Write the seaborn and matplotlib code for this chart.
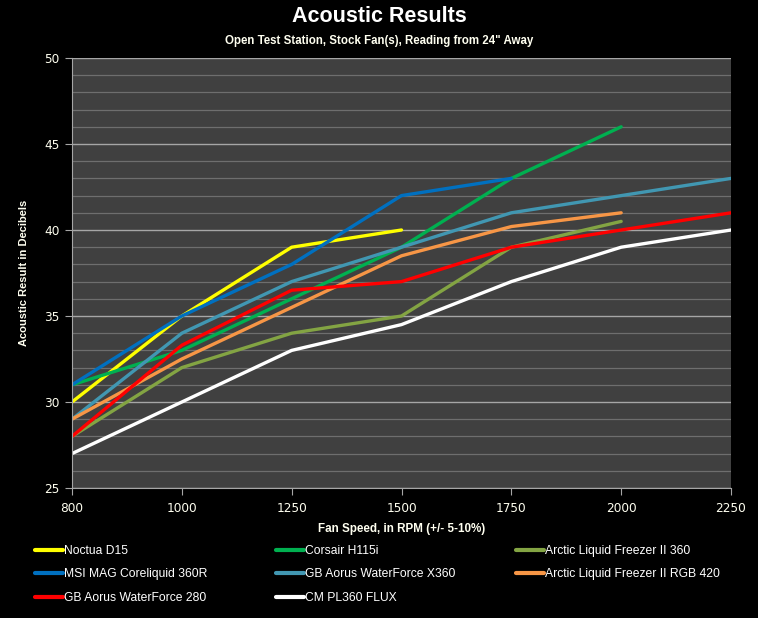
import numpy as np
import pandas as pd
import matplotlib
matplotlib.use("Agg")
import matplotlib.pyplot as plt
from matplotlib.ticker import MultipleLocator
import seaborn as sns

# fan speeds (categorical, evenly spaced on the chart)
rpm_ticks = [800, 1000, 1250, 1500, 1750, 2000, 2250]

noctua_d15 = [30, 35, 39, 40]
corsair_h115i = [31, 33, 36, 39, 43, 46]
arctic_360 = [28, 32, 34, 35, 39, 40.5]
msi_360r = [31, 35, 38, 42, 43]
aorus_x360 = [29, 34, 37, 39, 41, 42, 43]
arctic_420 = [29, 32.5, 35.5, 38.5, 40.2, 41]
aorus_280 = [28, 33.3, 36.5, 37, 39, 40, 41]
cm_pl360 = [27, 30, 33, 34.5, 37, 39, 40]

series = {
    "Noctua D15": noctua_d15,
    "Corsair H115i": corsair_h115i,
    "Arctic Liquid Freezer II 360": arctic_360,
    "MSI MAG Coreliquid 360R": msi_360r,
    "GB Aorus WaterForce X360": aorus_x360,
    "Arctic Liquid Freezer II RGB 420": arctic_420,
    "GB Aorus WaterForce 280": aorus_280,
    "CM PL360 FLUX": cm_pl360,
}
colors = {
    "Noctua D15": "#ffff00",
    "Corsair H115i": "#00b050",
    "Arctic Liquid Freezer II 360": "#83a443",
    "MSI MAG Coreliquid 360R": "#0070c0",
    "GB Aorus WaterForce X360": "#4197b2",
    "Arctic Liquid Freezer II RGB 420": "#f79646",
    "GB Aorus WaterForce 280": "#ff0000",
    "CM PL360 FLUX": "#ffffff",
}

rows = []
for name, vals in series.items():
    for i, v in enumerate(vals):
        rows.append({"cooler": name, "pos": i, "rpm": rpm_ticks[i], "db": v})
df = pd.DataFrame(rows)

sns.set_style("dark")
plt.rcParams["font.family"] = ["Liberation Sans", "DejaVu Sans"]
TXT = "#fffff0"

fig = plt.figure(figsize=(7.58, 6.18), dpi=100, facecolor="black")
ax = fig.add_axes([72 / 758, 1 - 488 / 618, (731 - 72) / 758, (488 - 58) / 618])
ax.set_facecolor("#404040")

sns.lineplot(data=df, x="pos", y="db", hue="cooler", palette=colors,
             hue_order=list(series.keys()), linewidth=2.4, ax=ax,
             legend=True, sort=False)

ax.set_xlim(0, len(rpm_ticks) - 1)
ax.set_ylim(25, 50)
ax.set_xticks(range(len(rpm_ticks)))
ax.set_xticklabels([str(r) for r in rpm_ticks])
ax.yaxis.set_major_locator(MultipleLocator(5))
ax.yaxis.set_minor_locator(MultipleLocator(1))
ax.grid(False)
ax.grid(axis="y", which="major", color="#a6a6a6", linewidth=1.0)
ax.grid(axis="y", which="minor", color="#6e6e6e", linewidth=0.9)
ax.set_axisbelow(True)

for side in ["top", "right"]:
    ax.spines[side].set_visible(False)
for side in ["left", "bottom"]:
    ax.spines[side].set_visible(True)
    ax.spines[side].set_color("#a6a6a6")

for lab in ax.get_xticklabels() + ax.get_yticklabels():
    lab.set_family("DejaVu Sans")
ax.tick_params(axis="y", which="major", left=True, length=5, color="#a6a6a6",
               labelcolor=TXT, labelsize=8.7, pad=4)
ax.tick_params(axis="y", which="minor", left=False)
ax.tick_params(axis="x", bottom=True, length=5, color="#a6a6a6",
               labelcolor=TXT, labelsize=8.7, pad=5)

ax.set_xlabel("Fan Speed, in RPM (+/- 5-10%)", color=TXT, fontsize=8.4,
              fontweight="bold", labelpad=6)
ax.set_ylabel("Acoustic Result in Decibels", color=TXT, fontsize=8.0,
              fontweight="bold", labelpad=11)

fig.text(0.5, 1 - 17 / 618, "Acoustic Results", ha="center", va="center",
         color="white", fontsize=15.5, fontweight="bold")
fig.text(0.5, 1 - 41 / 618, "Open Test Station, Stock Fan(s), Reading from 24\" Away",
         ha="center", va="center", color=TXT, fontsize=8.3, fontweight="bold")

# legend: three columns, each placed like the original
handles, labels = ax.get_legend_handles_labels()
lookup = dict(zip(labels, handles))
columns = [
    ["Noctua D15", "MSI MAG Coreliquid 360R", "GB Aorus WaterForce 280"],
    ["Corsair H115i", "GB Aorus WaterForce X360", "CM PL360 FLUX"],
    ["Arctic Liquid Freezer II 360", "Arctic Liquid Freezer II RGB 420"],
]
col_x = [30, 271, 511]
ax.get_legend().remove()
for names, x0 in zip(columns, col_x):
    leg = fig.legend([lookup[k] for k in names], names, loc="upper left",
                     bbox_to_anchor=(x0 / 758, 1 - 540 / 618),
                     frameon=False, labelcolor="white", handlelength=2.3,
                     handletextpad=0.15, labelspacing=0.96, borderaxespad=0,
                     prop={"size": 8.7})
    for line in leg.get_lines():
        line.set_linewidth(3)

fig.savefig("out.png", dpi=100, facecolor="black")
